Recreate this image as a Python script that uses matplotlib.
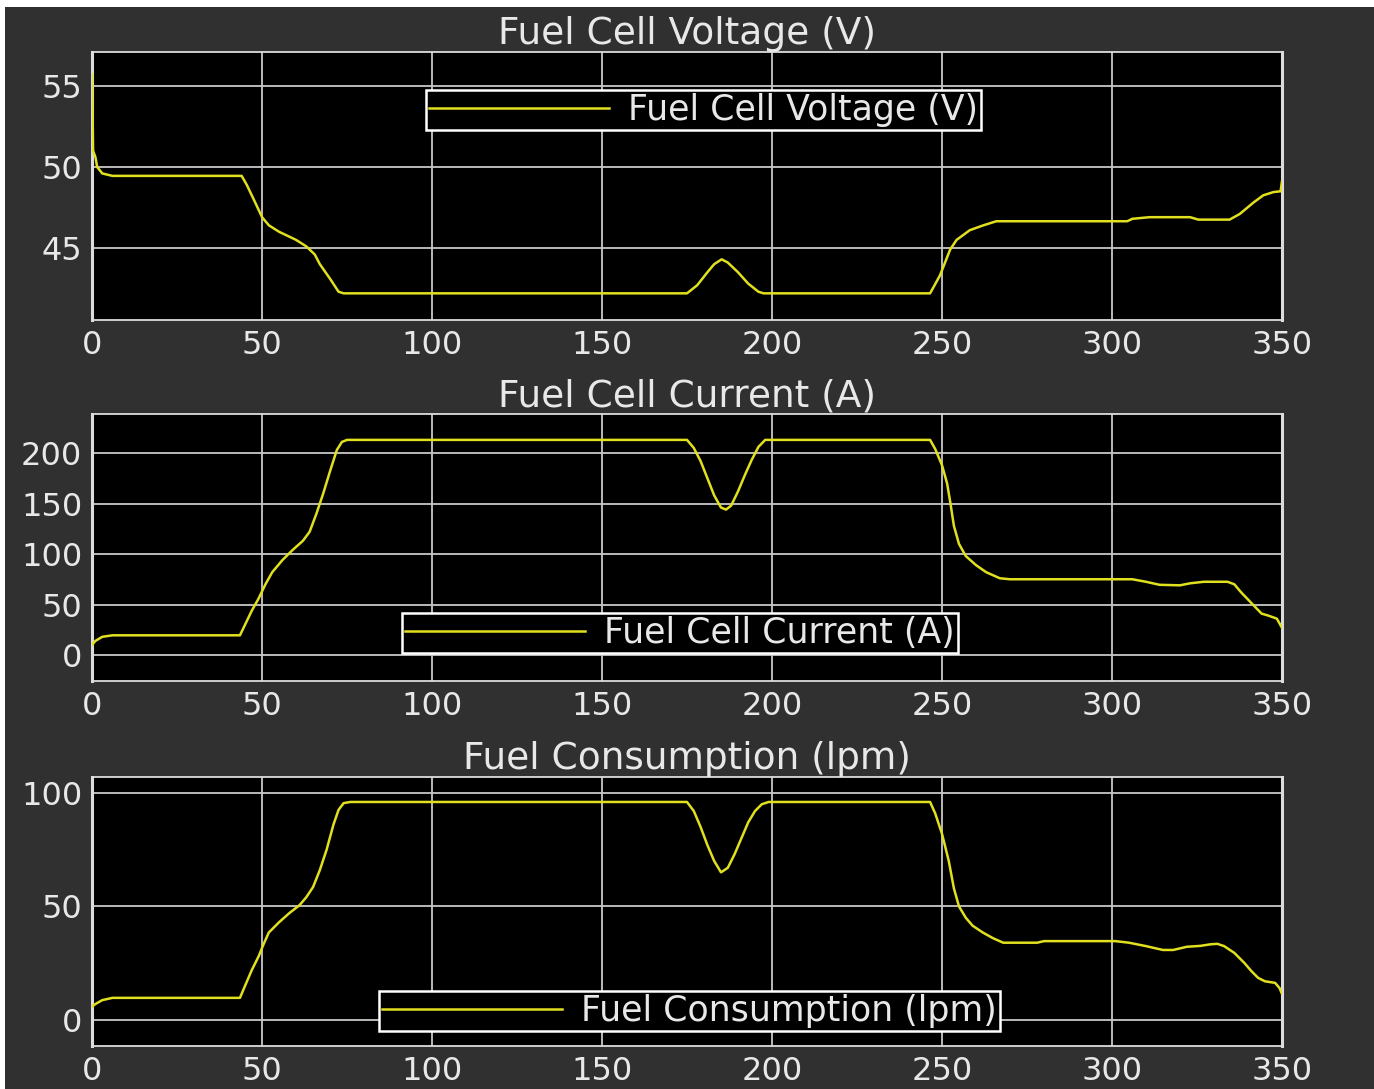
import matplotlib

matplotlib.use("Agg")
import matplotlib.pyplot as plt
from matplotlib.patches import Rectangle

# Fuel cell stack response, time in seconds
volt_t = [0, 0.3, 1.0, 1.5, 3, 6, 44, 45.5, 48, 50, 52, 55, 60, 63, 65.5, 67, 70, 72.5, 74,
          175, 178, 181, 183, 185.2, 187, 190, 193, 196, 197.5,
          246.5, 249.4, 252.4, 254.3, 258.2, 262.2, 266, 304.5, 306, 311, 323, 325.4, 334.6,
          337.6, 341.6, 344.5, 347.5, 349.6, 350]
volt_v = [55.7, 51.0, 50.6, 50.0, 49.6, 49.45, 49.45, 48.9, 47.8, 46.9, 46.4, 46.0, 45.5, 45.1, 44.6, 44.0, 43.1, 42.3, 42.2,
          42.2, 42.7, 43.5, 44.0, 44.3, 44.1, 43.5, 42.8, 42.3, 42.2,
          42.2, 43.3, 44.9, 45.5, 46.1, 46.4, 46.65, 46.65, 46.8, 46.9, 46.9, 46.75, 46.75,
          47.1, 47.8, 48.25, 48.45, 48.5, 49.1]

curr_t = [0, 1, 3, 6, 43.5, 45, 47, 49, 51, 53, 56, 59, 62, 64, 66, 68, 70, 72, 73.5, 75,
          175, 177, 179, 181, 183, 185, 186.5, 188, 190, 192, 194, 196, 198,
          246.5, 248, 250, 251.5, 252.5, 253.5, 255, 257, 260, 263, 267, 270, 306, 310, 314, 320,
          323, 327, 334, 336, 338, 340, 342, 344, 346, 348.5, 350]
curr_a = [10, 14, 18, 19.5, 19.5, 30, 44, 56, 70, 82, 94, 104, 113, 122, 140, 160, 182, 203, 211, 213,
          213, 205, 192, 175, 158, 146, 144, 148, 162, 178, 193, 206, 213,
          213, 204, 188, 170, 150, 128, 110, 98, 89, 82, 76, 75, 75, 72.5, 69.5, 69,
          71, 72.5, 72.5, 70, 62, 55, 48, 41, 39, 36, 27]

fuel_t = [0, 1, 3, 6, 43.5, 45, 47, 49, 50.5, 52, 55, 58, 61, 63, 65, 67, 69, 71, 72.5, 74, 76,
          175, 177, 179, 181, 183, 185, 187, 189, 191, 193, 195, 197, 199,
          246.5, 248, 250, 252, 253.5, 255, 257, 259, 262, 265, 268, 278, 280, 301, 305, 310, 315, 318,
          322, 326, 329, 331, 333, 336, 339, 341, 343, 345, 348, 349.3, 350]
fuel_lpm = [5.9, 7.0, 8.7, 9.7, 9.7, 15, 22, 28, 33.5, 38.5, 43, 47, 50.5, 54, 58.5, 66, 75, 86, 92.5, 95.5, 96,
            96, 92, 85, 77, 70, 65, 67, 73, 80, 87, 92, 95, 96,
            96, 91, 82, 70, 58, 50, 45, 41.5, 38.5, 36, 34, 34, 34.7, 34.7, 34, 32.5, 30.8, 30.8,
            32.2, 32.6, 33.3, 33.5, 32.5, 29.5, 25, 21.5, 18.5, 17, 16.3, 14, 11.5]

titles = ["Fuel Cell Voltage (V)", "Fuel Cell Current (A)", "Fuel Consumption (lpm)"]
y_ticks = [[45, 50, 55], [0, 50, 100, 150, 200], [0, 50, 100]]
y_limits = [(40.55, 57.1), (-25.7, 238.6), (-11.5, 107)]
x_ticks = [0, 50, 100, 150, 200, 250, 300, 350]

FIG_BG = "#303030"
TEXT = "#e8e8e8"
GRID = "#c8c8c8"
TRACE = "#e0e01e"


def style_axes(axes, title, yticks, ylim):
    axes.set_facecolor("black")
    axes.set_xlim(0, 350)
    axes.set_ylim(*ylim)
    axes.set_xticks(x_ticks)
    axes.set_yticks(yticks)
    axes.grid(True, color=GRID, linewidth=1.3)
    axes.set_axisbelow(True)
    axes.tick_params(colors=TEXT, labelsize=23, length=0, pad=7)
    for side, spine in axes.spines.items():
        spine.set_color("#dcdcdc")
        spine.set_linewidth(2.2 if side in ("left", "right") else 1.3)
    axes.set_title(title, color=TEXT, fontsize=27, pad=2)


def add_legend(axes, loc, anchor):
    legend = axes.legend(loc=loc, bbox_to_anchor=anchor, fontsize=25, handlelength=5.2,
                         fancybox=False, frameon=True, borderaxespad=0,
                         borderpad=0.08, handletextpad=0.55)
    frame = legend.get_frame()
    frame.set_facecolor("black")
    frame.set_edgecolor("white")
    frame.set_linewidth(1.8)
    frame.set_alpha(1.0)
    for text in legend.get_texts():
        text.set_color(TEXT)


def main():
    plt.rcParams["font.family"] = ["DejaVu Sans"]
    figure = plt.figure(figsize=(13.74, 10.89), dpi=100, facecolor=FIG_BG)

    # thin white margin along the top and left edges
    figure.patches.append(Rectangle((0, 1 - 7 / 1089), 1, 7 / 1089, transform=figure.transFigure,
                                    facecolor="white", edgecolor="none", zorder=-1))
    figure.patches.append(Rectangle((0, 0), 5 / 1374, 1, transform=figure.transFigure,
                                    facecolor="white", edgecolor="none", zorder=-1))

    boxes = [(0.067, 0.7061, 0.866, 0.2462),
             (0.067, 0.3747, 0.866, 0.2451),
             (0.067, 0.0395, 0.866, 0.2470)]
    series = [(volt_t, volt_v), (curr_t, curr_a), (fuel_t, fuel_lpm)]
    legends = [("upper center", (0.514, 0.858)),
               ("lower center", (0.494, 0.105)),
               ("lower center", (0.502, 0.056))]

    for box, (t, y), title, yticks, ylim, (loc, anchor) in zip(boxes, series, titles, y_ticks, y_limits, legends):
        axes = figure.add_axes(box)
        # trace sits above the spines so the start-up transient on t=0 stays visible
        axes.plot(t, y, color=TRACE, linewidth=1.8, label=title, zorder=3)
        style_axes(axes, title, yticks, ylim)
        add_legend(axes, loc, anchor)

    figure.savefig("out.png", dpi=100, facecolor=FIG_BG)
    plt.close(figure)


if __name__ == "__main__":
    main()
